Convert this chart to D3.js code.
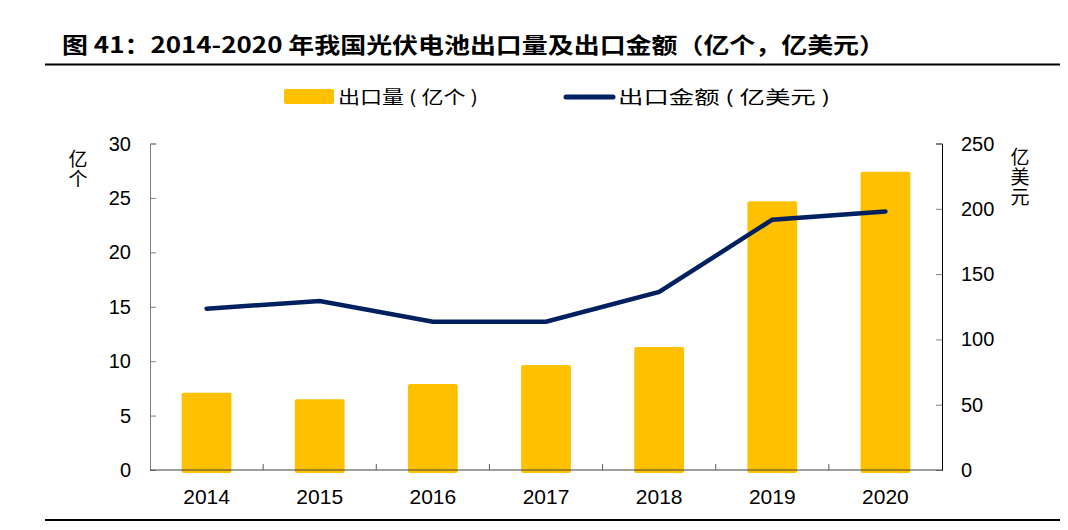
<!DOCTYPE html>
<html><head><meta charset="utf-8">
<script src="https://cdn.jsdelivr.net/npm/d3@7"></script>
<style>body{margin:0;background:#fff}svg{display:block}</style>
</head><body><svg id="c" width="1068" height="530"></svg>
<script>
const years = ["2014","2015","2016","2017","2018","2019","2020"];
const volume = [7.1, 6.5, 7.9, 9.65, 11.3, 24.7, 27.4];
const amount = [123.5, 129.4, 113.5, 113.5, 136.3, 191.7, 198];
const leftTicks = [0,5,10,15,20,25,30];
const rightTicks = [0,50,100,150,200,250];
const title = "图 41：2014-2020 年我国光伏电池出口量及出口金额（亿个，亿美元）";
const legendLabels = ["出口量 ( 亿个 )","出口金额 ( 亿美元 )"];
const leftTitle = "亿个", rightTitle = "亿美元";

const svg = d3.select("#c");
const font = "'Liberation Sans', Arial, 'Noto Sans CJK SC', sans-serif";
const cjk = "'Noto Sans CJK SC', sans-serif";
const L = 150, R = 942, T = 143.5, B = 470;
const x = d3.scaleBand().domain(years).range([L, R]).paddingInner(0.56).paddingOuter(0.28);
const xb = d3.scaleBand().domain(years).range([L, R]);
const yL = d3.scaleLinear().domain([0,30]).range([B, T]);
const yR = d3.scaleLinear().domain([0,250]).range([B, T]);

// title
svg.append("text").attr("x", 62).attr("y", 53).attr("font-family", cjk).attr("font-weight", "bold")
  .attr("font-size", 22).attr("fill", "#000")
  .attr("textLength", 823).attr("lengthAdjust", "spacingAndGlyphs").text(title);
svg.append("line").attr("x1", 45).attr("x2", 1060).attr("y1", 64.5).attr("y2", 64.5).attr("stroke", "#000").attr("stroke-width", 2);
svg.append("line").attr("x1", 45).attr("x2", 1060).attr("y1", 520).attr("y2", 520).attr("stroke", "#000").attr("stroke-width", 2);

// bars
svg.append("g").selectAll("rect").data(years).join("rect")
  .attr("x", d => x(d)).attr("width", x.bandwidth())
  .attr("y", (d,i) => yL(volume[i])).attr("height", (d,i) => yL(0) - yL(volume[i]) + 3)
  .attr("rx", 2).attr("fill", "#FFC000");

// axes
const gl = svg.append("g").attr("transform", `translate(${L},0)`)
  .call(d3.axisRight(yL).tickValues(leftTicks).tickSize(6).tickFormat(""));
gl.select(".domain").attr("stroke", "#7f7f7f");
gl.selectAll(".tick line").attr("stroke", "#7f7f7f");
svg.append("g").selectAll("text").data(leftTicks).join("text")
  .attr("x", 131).attr("y", d => yL(d) + 7).attr("text-anchor", "end")
  .attr("font-family", font).attr("font-size", 20).attr("fill", "#000").text(d => d);

const gr = svg.append("g").attr("transform", `translate(${R},0)`)
  .call(d3.axisLeft(yR).tickValues(rightTicks).tickSize(6).tickFormat(""));
gr.select(".domain").attr("stroke", "#000");
gr.selectAll(".tick line").attr("stroke", "#7f7f7f");
svg.append("g").selectAll("text").data(rightTicks).join("text")
  .attr("x", 961).attr("y", d => yR(d) + 7).attr("text-anchor", "start")
  .attr("font-family", font).attr("font-size", 20).attr("fill", "#000").text(d => d);

// x axis
svg.append("line").attr("x1", L).attr("x2", R).attr("y1", B).attr("y2", B).attr("stroke", "#404040").attr("stroke-width", 1.2);
svg.append("g").selectAll("line").data(years.slice(1)).join("line")
  .attr("x1", d => xb(d)).attr("x2", d => xb(d)).attr("y1", B).attr("y2", B - 6).attr("stroke", "#595959");
svg.append("g").selectAll("text").data(years).join("text")
  .attr("x", d => xb(d) + xb.bandwidth()/2).attr("y", 504).attr("text-anchor", "middle")
  .attr("font-family", font).attr("font-size", 21).attr("fill", "#000").text(d => d);

// line
const line = d3.line().x((d,i) => xb(years[i]) + xb.bandwidth()/2).y(d => yR(d));
svg.append("path").datum(amount).attr("d", line).attr("fill", "none")
  .attr("stroke", "#002060").attr("stroke-width", 4.5).attr("stroke-linecap", "round").attr("stroke-linejoin", "miter");

// axis titles (vertical, upright)
svg.append("text").attr("x", 78).attr("y", 149).attr("font-family", cjk).attr("font-size", 19).attr("fill", "#000")
  .style("writing-mode", "vertical-rl").style("text-orientation", "upright").style("letter-spacing", "1px").text(leftTitle);
svg.append("text").attr("x", 1020).attr("y", 147).attr("font-family", cjk).attr("font-size", 19).attr("fill", "#000")
  .style("writing-mode", "vertical-rl").style("text-orientation", "upright").style("letter-spacing", "1px").text(rightTitle);

// legend
svg.append("rect").attr("x", 284).attr("y", 89).attr("width", 50).attr("height", 15).attr("rx", 2).attr("fill", "#FFC000");
svg.append("text").attr("x", 338).attr("y", 104).attr("font-family", cjk).attr("font-size", 18).attr("fill", "#000")
  .attr("textLength", 140).attr("lengthAdjust", "spacingAndGlyphs").text(legendLabels[0]);
svg.append("line").attr("x1", 566).attr("x2", 613).attr("y1", 97).attr("y2", 97).attr("stroke", "#002060").attr("stroke-width", 5).attr("stroke-linecap", "round");
svg.append("text").attr("x", 618).attr("y", 104).attr("font-family", cjk).attr("font-size", 18).attr("fill", "#000")
  .attr("textLength", 212).attr("lengthAdjust", "spacingAndGlyphs").text(legendLabels[1]);
</script></body></html>
